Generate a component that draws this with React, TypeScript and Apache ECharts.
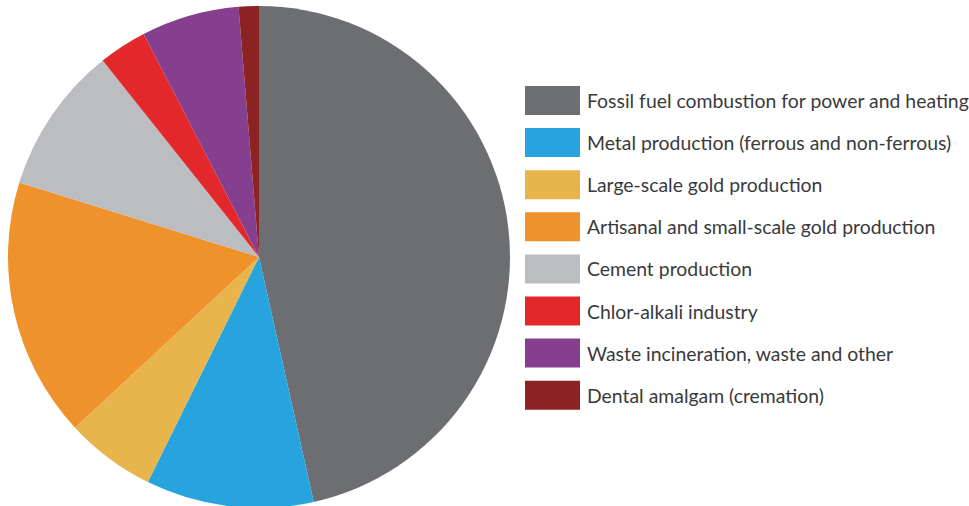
import React, { useEffect, useRef } from "react";
import * as echarts from "echarts";

const categories = [
  "Fossil fuel combustion for power and heating",
  "Metal production (ferrous and non-ferrous)",
  "Large-scale gold production",
  "Artisanal and small-scale gold production",
  "Cement production",
  "Chlor-alkali industry",
  "Waste incineration, waste and other",
  "Dental amalgam (cremation)",
];
const values = [46.5, 10.8, 5.8, 16.7, 9.5, 3.1, 6.3, 1.3];
const colors = ["#6d6e71", "#27a4dd", "#e8b54d", "#ef922c", "#bcbdc0", "#e2282b", "#853f8e", "#8b2323"];

export default function App() {
  const ref = useRef<HTMLDivElement>(null);
  useEffect(() => {
    if (!ref.current) return;
    const chart = echarts.init(ref.current, undefined, { renderer: "svg" });
    chart.setOption({
      animation: false,
      backgroundColor: "#ffffff",
      legend: {
        orient: "vertical",
        left: 525,
        top: 86,
        padding: 0,
        itemWidth: 55,
        itemHeight: 29,
        itemGap: 13.1,
        icon: "rect",
        data: categories,
        selectedMode: false,
        textStyle: { fontFamily: "Lato", fontSize: 19.4, color: "#3a3a3c", padding: [0, 0, 0, 2] },
      },
      series: [
        {
          type: "pie",
          center: [259, 257],
          radius: [0, 251],
          startAngle: 90,
          clockwise: true,
          label: { show: false },
          labelLine: { show: false },
          emphasis: { disabled: true },
          itemStyle: { borderWidth: 0 },
          data: categories.map((c, i) => ({ name: c, value: values[i], itemStyle: { color: colors[i] } })),
        },
      ],
    });
    return () => chart.dispose();
  }, []);
  return <div ref={ref} style={{ width: 969, height: 506, position: "absolute", left: 0, top: 0 }} />;
}
